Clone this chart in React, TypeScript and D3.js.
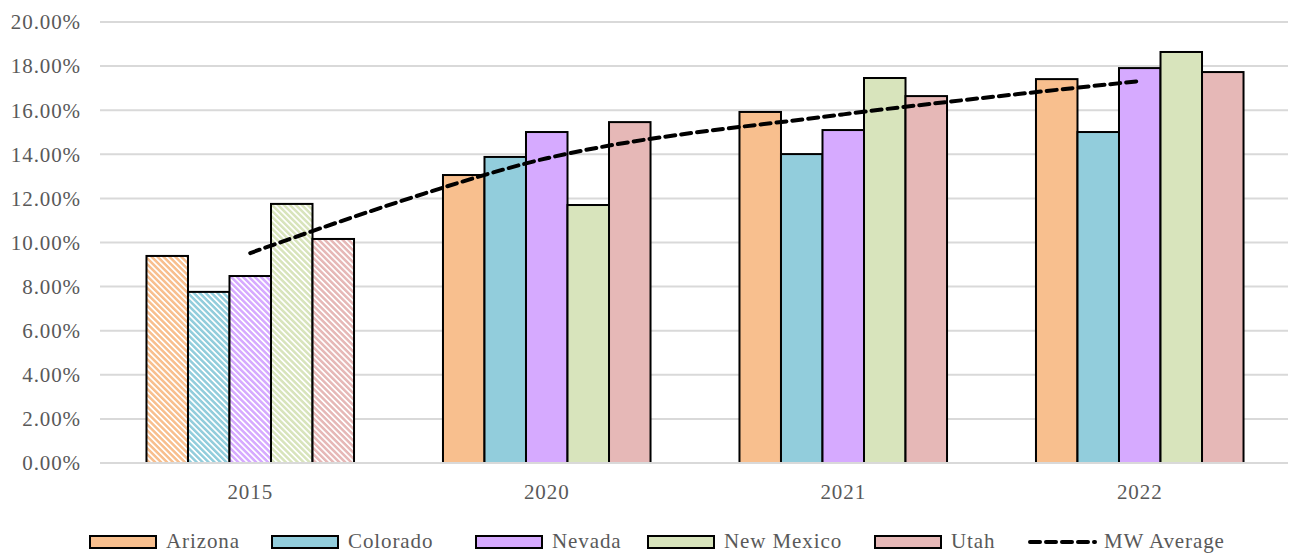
import React from "react";
import * as d3 from "d3";

const categories = ["2015", "2020", "2021", "2022"];
const states = ["Arizona", "Colorado", "Nevada", "New Mexico", "Utah"];
const arizona = [0.0939, 0.1306, 0.1592, 0.1741];
const colorado = [0.0776, 0.1388, 0.1401, 0.1501];
const nevada = [0.0848, 0.1501, 0.151, 0.1791];
const newMexico = [0.1175, 0.117, 0.1746, 0.1864];
const utah = [0.1016, 0.1546, 0.1664, 0.1773];
const mwAverage = [0.0952, 0.1382, 0.1581, 0.1732];
const yTicks = [0, 0.02, 0.04, 0.06, 0.08, 0.1, 0.12, 0.14, 0.16, 0.18, 0.2];
const colors = ["#F8BF8E", "#92CDDC", "#D6AAFF", "#D8E4BC", "#E6B8B7"];

const seriesValues = [arizona, colorado, nevada, newMexico, utah];

const W = 1291;
const H = 554;
const FONT = "Liberation Serif, DejaVu Serif, serif";
const TEXT = "#595959";
const FS = 21;
const LS = 0.9;

export default function App() {
  const left = 102;
  const right = 1288;
  const top = 22;
  const bottom = 463;

  const x0 = d3.scaleBand().domain(categories).range([left, right]).paddingInner(0.3).paddingOuter(0.15);
  const x1 = d3.scaleBand().domain(states).range([0, x0.bandwidth()]);
  const y = d3.scaleLinear().domain([0, 0.2]).range([bottom, top]);
  const fmt = d3.format(".2%");

  const line = d3
    .line<number>()
    .x((_, i) => (x0(categories[i]) as number) + x0.bandwidth() / 2)
    .y((d) => y(d))
    .curve(d3.curveCatmullRom.alpha(0.5));

  const legendItems = [
    { label: "Arizona", x: 90 },
    { label: "Colorado", x: 272 },
    { label: "Nevada", x: 476 },
    { label: "New Mexico", x: 648 },
    { label: "Utah", x: 875 },
  ];

  return (
    <svg width={W} height={H} style={{ position: "absolute", left: 0, top: 0, background: "#fff" }}>
      <defs>
        {colors.map((c, i) => (
          <pattern
            key={i}
            id={`hatch${i}`}
            patternUnits="userSpaceOnUse"
            width={4.2}
            height={4.2}
            patternTransform="rotate(-45)"
          >
            <rect x={0} y={0} width={4.2} height={4.2} fill="#fff" />
            <rect x={0} y={0} width={2.5} height={4.2} fill={c} />
          </pattern>
        ))}
      </defs>
      <rect x={0} y={0} width={W} height={H} fill="#fff" />
      {yTicks.map((t) => (
        <g key={t}>
          <line x1={left - 2} x2={right} y1={y(t)} y2={y(t)} stroke="#D9D9D9" strokeWidth={2} />
          <text
            x={81}
            y={y(t)}
            dy="0.35em"
            textAnchor="end"
            fontFamily={FONT}
            fontSize={FS}
            letterSpacing={LS}
            fill={TEXT}
          >
            {fmt(t)}
          </text>
        </g>
      ))}
      {categories.map((cat, ci) => (
        <g key={cat}>
          {states.map((s, si) => {
            const v = seriesValues[si][ci];
            const bx = (x0(cat) as number) + (x1(s) as number);
            return (
              <rect
                key={s}
                x={bx}
                y={y(v)}
                width={x1.bandwidth()}
                height={bottom - y(v)}
                fill={ci === 0 ? `url(#hatch${si})` : colors[si]}
                stroke="#000"
                strokeWidth={2}
              />
            );
          })}
          <text
            x={(x0(cat) as number) + x0.bandwidth() / 2}
            y={499}
            textAnchor="middle"
            fontFamily={FONT}
            fontSize={FS}
            letterSpacing={LS}
            fill={TEXT}
          >
            {cat}
          </text>
        </g>
      ))}
      <line x1={left - 2} x2={right} y1={bottom} y2={bottom} stroke="#D9D9D9" strokeWidth={2} />
      <path
        d={line(mwAverage) || ""}
        fill="none"
        stroke="#000"
        strokeWidth={4}
        strokeDasharray="10,6"
        strokeLinecap="round"
      />
      {legendItems.map((it, i) => (
        <g key={it.label}>
          <rect x={it.x} y={536} width={66} height={12} fill={colors[i]} stroke="#000" strokeWidth={2} />
          <text x={it.x + 76} y={548} fontFamily={FONT} fontSize={FS} letterSpacing={LS} fill={TEXT}>
            {it.label}
          </text>
        </g>
      ))}
      <line x1={1030} x2={1095} y1={542} y2={542} stroke="#000" strokeWidth={4} strokeDasharray="10,6" strokeLinecap="round" />
      <text x={1104} y={548} fontFamily={FONT} fontSize={FS} letterSpacing={LS} fill={TEXT}>
        MW Average
      </text>
    </svg>
  );
}
